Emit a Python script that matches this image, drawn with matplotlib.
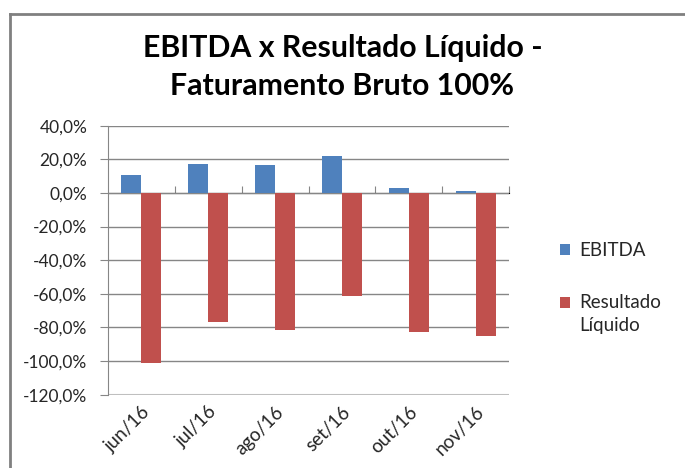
import matplotlib
matplotlib.use("Agg")
import matplotlib.pyplot as plt
from matplotlib.lines import Line2D
from matplotlib.patches import Rectangle
from matplotlib.legend_handler import HandlerPatch
from matplotlib.ticker import FuncFormatter
import numpy as np

months = ["jun/16", "jul/16", "ago/16", "set/16", "out/16", "nov/16"]
ebitda = [10.7, 17.3, 16.7, 22.0, 3.2, 1.4]
resultado = [-101.0, -76.6, -81.3, -61.3, -82.5, -85.0]

plt.rcParams['font.family'] = ['Lato', 'DejaVu Sans']

fig = plt.figure(figsize=(6.85, 4.68), dpi=100)
ax = fig.add_axes([0.1577, 0.1566, 0.5854, 0.5748])

x = np.arange(len(months))
w = 0.3
b1 = ax.bar(x - w / 2, ebitda, w, color='#4F81BD', label='EBITDA', zorder=3)
b2 = ax.bar(x + w / 2, resultado, w, color='#C0504D', label='Resultado\nLíquido', zorder=3)

ax.set_xlim(-0.5, len(months) - 0.5)
ax.set_ylim(-120, 40)
ax.set_yticks(np.arange(-120, 41, 20))
ax.yaxis.set_major_formatter(FuncFormatter(lambda v, p: f"{v:.1f}%".replace('.', ',')))
for yv in np.arange(-100, 41, 20):
    ax.axhline(yv, color='#868686', lw=1, zorder=1)
ax.axhline(-120, color='#bfbfbf', lw=1.5, zorder=1)

for s in ['top', 'right', 'bottom']:
    ax.spines[s].set_visible(False)
ax.spines['left'].set_color('#868686')
ax.tick_params(axis='y', length=6, color='#868686', labelsize=12.5, labelcolor='#262626', pad=9)

ax.set_xticks(x)
ax.set_xticklabels(months, rotation=45, ha='right', va='top', rotation_mode='anchor', fontsize=13.5, color='#262626')
ax.tick_params(axis='x', length=0, pad=6)

# category tick marks on the zero line
sec = ax.secondary_xaxis(0.75)
sec.set_xticks(np.arange(0.5, len(months), 1.0))
sec.set_xticklabels([])
sec.spines['bottom'].set_visible(False)
sec.tick_params(axis='x', length=5, color='#868686', direction='out')


def top_square(legend, orig_handle, xdescent, ydescent, width, height, fontsize):
    # square next to the first line of a two-line label
    return Rectangle((-xdescent, -ydescent + 0.62 * fontsize), width, height)


h1, h2 = b1.patches[0], b2.patches[0]
leg = fig.legend([h1, h2], ['EBITDA', 'Resultado\nLíquido'],
                 loc='center left', bbox_to_anchor=(0.793, 0.385), frameon=False, fontsize=13.5,
                 handlelength=0.55, handleheight=0.55, handletextpad=0.45, labelspacing=1.85,
                 labelcolor='#262626',
                 handler_map={h2: HandlerPatch(patch_func=top_square)})
for t in leg.get_texts():
    t.set_linespacing(1.45)

fig.text(0.5, 0.857, "EBITDA x Resultado Líquido -\nFaturamento Bruto 100%",
         ha='center', va='center', fontsize=21.8, fontweight='bold', linespacing=1.42)

fig.add_artist(Line2D([10 / 685, 10 / 685], [0, 1 - 14 / 468], transform=fig.transFigure, color='#808080', lw=2))
fig.add_artist(Line2D([10 / 685, 1], [1 - 14 / 468, 1 - 14 / 468], transform=fig.transFigure, color='#808080', lw=2))

fig.savefig("out.png", dpi=100)
